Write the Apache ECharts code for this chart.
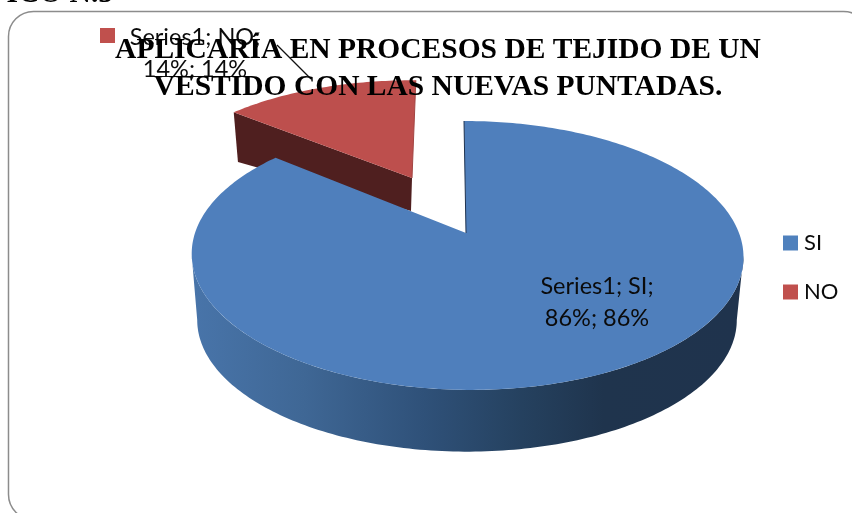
<!DOCTYPE html>
<html>
<head>
<meta charset="utf-8">
<style>
  html, body { margin: 0; padding: 0; background: #fff; }
  #chart { width: 852px; height: 513px; overflow: hidden; }
</style>
<script src="https://cdn.jsdelivr.net/npm/echarts@6/dist/echarts.min.js"></script>
</head>
<body>
<div id="chart"></div>
<script>
const categories = ['SI', 'NO'];
const shares = [86, 14];
const seriesLabel = 'Series1';
const titleLines = ['APLICARÍA EN PROCESOS DE TEJIDO DE UN', 'VESTIDO CON LAS NUEVAS PUNTADAS.'];
const headingText = 'GRÁFICO N.5';

// fake 3d: a flat disc seen in perspective, one view for top face and one for the bottom
const K = 0.167;
const views = {
  SI: {
    apex: [466, 233],
    top: { cx: 467, cy: 233, a: 272, b: 130.7, skew: 3.5 },
    bottom: { cx: 467, cy: 298, a: 266, b: 128, skew: 0 }
  },
  NO: {
    apex: [412, 178],
    top: { cx: 412, cy: 178, a: 256, b: 114, skew: 0 },
    bottom: { cx: 411, cy: 211, a: 248.5, b: 85, skew: 0 }
  }
};
const labelAt = { SI: [597, 302], NO: [195, 53] };
const textFont = 'Lato, "Open Sans", sans-serif';

function pt (v, deg) {
  let t = deg * Math.PI / 180;
  let u = Math.sin(t), w = -Math.cos(t);
  let d = 1 - K * w;
  return [v.cx + (v.a * u + v.skew * w) / d, v.cy + v.b * w / d];
}
function arc (v, from, to) {
  let pts = [];
  let n = Math.max(2, Math.ceil(Math.abs(to - from)));
  for (let i = 0; i <= n; i++) pts.push(pt(v, from + (to - from) * i / n));
  return pts;
}
function startOf (idx) {
  let sum = 0;
  for (let i = 0; i < idx; i++) sum += shares[i];
  return sum / shares.reduce((a, b) => a + b, 0) * 360;
}
function poly (points, style) {
  return { type: 'polygon', shape: { points: points }, style: style, silent: true };
}
function line (a, b, color, width) {
  return {
    type: 'line', silent: true,
    shape: { x1: a[0], y1: a[1], x2: b[0], y2: b[1] },
    style: { stroke: color, lineWidth: width }
  };
}
function sliceLabel (idx, value) {
  let c = categories[idx];
  return {
    type: 'text', silent: true,
    style: {
      text: seriesLabel + '; ' + c + ';\n' + value + '%; ' + value + '%',
      x: labelAt[c][0], y: labelAt[c][1],
      align: 'center', verticalAlign: 'middle',
      fontFamily: textFont, fontSize: 23.5, lineHeight: 32, fill: '#0b0b0b'
    }
  };
}

const sideGradient = new echarts.graphic.LinearGradient(195, 0, 740, 0, [
  { offset: 0, color: '#4874a9' },
  { offset: 0.2, color: '#3f6795' },
  { offset: 0.42, color: '#2f5179' },
  { offset: 0.6, color: '#25415f' },
  { offset: 0.75, color: '#1f344d' },
  { offset: 1, color: '#1f334d' }
], true);

function renderSI (params, api) {
  let v = views.SI;
  let from = startOf(0);
  let to = from + api.value(0) / shares.reduce((a, b) => a + b, 0) * 360;
  let wallTop = arc(v.top, 99.6, 260.4);
  let wallBottom = arc(v.bottom, 260.4, 99.6);
  return {
    type: 'group',
    children: [
      poly(wallTop.concat(wallBottom), { fill: sideGradient }),
      poly([v.apex].concat(arc(v.top, from, to)), { fill: '#4f7fbc' }),
      line(pt(v.top, from), v.apex, '#1f3350', 1),
      sliceLabel(0, api.value(0))
    ]
  };
}

function renderNO (params, api) {
  let v = views.NO;
  let from = startOf(1);
  let to = from + api.value(0) / shares.reduce((a, b) => a + b, 0) * 360;
  let apexLow = [v.bottom.cx, v.bottom.cy];
  return {
    type: 'group',
    children: [
      poly([pt(v.top, from), v.apex, apexLow, pt(v.bottom, from)], { fill: '#4f1f1f' }),
      poly([v.apex].concat(arc(v.top, from, to + 1)), { fill: '#bd4f4d' }),
      line(pt(v.top, to + 1), v.apex, '#a34543', 1),
      sliceLabel(1, api.value(0))
    ]
  };
}

const chart = echarts.init(document.getElementById('chart'), null, { renderer: 'canvas' });
chart.setOption({
  animation: false,
  backgroundColor: '#fff',
  title: {
    text: titleLines.join('\n'),
    left: 438,
    top: 32,
    textAlign: 'center',
    padding: 0,
    textStyle: {
      fontFamily: '"Liberation Serif", serif',
      fontWeight: 'bold',
      fontSize: 29.5,
      lineHeight: 37,
      color: '#000'
    }
  },
  legend: {
    data: categories,
    orient: 'vertical',
    left: 783,
    top: 229,
    padding: 0,
    itemWidth: 15,
    itemHeight: 15,
    itemGap: 21,
    icon: 'rect',
    selectedMode: false,
    textStyle: { fontFamily: textFont, fontSize: 22, lineHeight: 28, color: '#0b0b0b', padding: [0, 0, 0, 1] }
  },
  graphic: [
    {
      type: 'rect', z: -1, silent: true,
      shape: { x: 8.5, y: 11.5, width: 860, height: 508, r: 25 },
      style: { fill: '#fff', stroke: '#8c8c8c', lineWidth: 1.5 }
    },
    {
      type: 'text', silent: true,
      style: {
        text: headingText, x: 113, y: 9, align: 'right', verticalAlign: 'bottom',
        fontFamily: '"Liberation Serif", serif', fontWeight: 'bold', fontSize: 29.5, fill: '#000'
      }
    },
    {
      type: 'rect', silent: true,
      shape: { x: 100, y: 28, width: 15, height: 15 },
      style: { fill: '#c0504d' }
    },
    line([146, 76.5], [245, 76.5], '#111', 1.2),
    line([277, 45], [311, 79], '#111', 1.2)
  ],
  series: [
    {
      name: categories[1], type: 'custom', coordinateSystem: 'none', z: 1,
      itemStyle: { color: '#c0504d' }, clip: false,
      renderItem: renderNO, data: [[shares[1]]]
    },
    {
      name: categories[0], type: 'custom', coordinateSystem: 'none', z: 2,
      itemStyle: { color: '#4f81bd' }, clip: false,
      renderItem: renderSI, data: [[shares[0]]]
    }
  ]
});
window.addEventListener('resize', function () { chart.resize(); });
</script>
</body>
</html>
